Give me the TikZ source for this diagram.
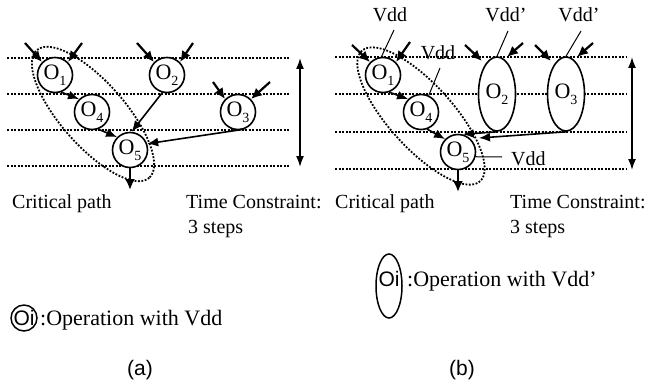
\documentclass[tikz,border=0pt]{standalone}
\usepackage{fontspec}
\setmainfont{Liberation Serif}
\newfontfamily\arialf{Liberation Sans}
\usetikzlibrary{arrows.meta,shapes.geometric}
\newcommand\osub[1]{{\fontsize{22}{24}\selectfont O\raisebox{-0.28em}{\fontsize{14}{14}\selectfont #1}}}
\begin{document}
\begin{tikzpicture}[x=1pt,y=-1pt,
  every node/.style={font=\fontsize{20}{24}\selectfont},
  guide/.style={line width=2pt, dash pattern=on 2pt off 1.5pt},
  crit/.style={line width=1.8pt, dash pattern=on 1.8pt off 1.6pt},
  opc/.style={circle, draw, line width=1.6pt, fill=white, minimum size=35pt, inner sep=0pt},
  ope/.style={ellipse, draw, line width=1.6pt, fill=white, minimum width=37pt, minimum height=74pt, inner sep=0pt},
  inarr/.style={line width=2.2pt, -{Latex[length=11pt,width=10pt]}},
  flow/.style={line width=1.6pt, -{Latex[length=11pt,width=9pt]}},
  spanarr/.style={line width=1.6pt, {Latex[length=11pt,width=8pt]}-{Latex[length=11pt,width=8pt]}},
  vline/.style={line width=1pt},
  txt/.style={anchor=base west, inner sep=0pt},
]
\useasboundingbox (0,0) rectangle (652,385);

% ---------------- panel (a) ----------------
\foreach \yy in {58,94,130,166} \draw[guide] (7,\yy) -- (290,\yy);
\coordinate (aT) at (300,58);
\coordinate (aB) at (300,167);
\draw[spanarr] (aT) -- (aB);

\node[opc] (O1a) at (55,75) {\osub{1}};
\node[opc] (O2a) at (167,75) {\osub{2}};
\node[opc] (O4a) at (92,112) {\osub{4}};
\node[opc] (O3a) at (238,112) {\osub{3}};
\node[opc] (O5a) at (130,150) {\osub{5}};

\draw[crit] plot[domain=0:360,samples=120] ({93+85*cos(\x)*cos(48.6)-32*sin(\x)*sin(48.6)},{114+85*cos(\x)*sin(48.6)+32*sin(\x)*cos(48.6)}) -- cycle;

\coordinate (sa1) at (25,43);
\coordinate (sa2) at (82,43);
\coordinate (sa3) at (137,43);
\coordinate (sa4) at (193,43);
\coordinate (sa5) at (213,82);
\coordinate (sa6) at (270,82);
\draw[inarr] (sa1) -- (O1a.135);
\draw[inarr] (sa2) -- (O1a.45);
\draw[inarr] (sa3) -- (O2a.135);
\draw[inarr] (sa4) -- (O2a.45);
\draw[inarr] (sa5) -- (O3a.135);
\draw[inarr] (sa6) -- (O3a.45);

\draw[flow] (O1a.-70) -- (O4a.135);
\draw[flow] (O4a.-70) -- (O5a.135);
\draw[flow] (O2a.-105) -- (O5a.85);
\draw[flow] (O3a.-70) -- (O5a.20);
\coordinate (outa) at (130,190);
\draw[inarr] (O5a.south) -- (outa);

\node[txt] (cpa) at (12,208) {Critical path};
\node[txt] (tca) at (186,208) {Time Constraint:};
\node[txt] (tsa) at (188,233) {3 steps};

% legend (a)
\node[circle, draw, line width=1.5pt, minimum size=24pt, inner sep=0pt, font=\arialf\fontsize{21}{21}\selectfont] (La) at (24,318) {Oi};
\node[txt, font=\fontsize{22}{26}\selectfont] (lta) at (40,325) {:Operation with Vdd};
\node[font=\arialf\fontsize{21}{24}\selectfont] (capa) at (140,370) {(a)};

% ---------------- panel (b) ----------------
\foreach \yy in {57,94,132,169} \draw[guide] (335,\yy) -- (627,\yy);
\coordinate (bT) at (632,57);
\coordinate (bB) at (632,170);
\draw[spanarr] (bT) -- (bB);

\node[opc] (O1b) at (383,75) {\osub{1}};
\node[opc] (O4b) at (421,112) {\osub{4}};
\node[opc] (O5b) at (458,152) {\osub{5}};
\node[ope] (O2b) at (497,94) {\osub{2}};
\node[ope] (O3b) at (566,94) {\osub{3}};

\draw[crit] plot[domain=0:360,samples=120] ({421+88*cos(\x)*cos(47.8)-32*sin(\x)*sin(47.8)},{116+88*cos(\x)*sin(47.8)+32*sin(\x)*cos(47.8)}) -- cycle;

\coordinate (sb1) at (352,45);
\coordinate (sb2) at (410,42);
\coordinate (sb3) at (465,45);
\coordinate (sb4) at (523,43);
\coordinate (sb5) at (535,45);
\coordinate (sb6) at (593,43);
\coordinate (eb3) at (482,61);
\coordinate (eb4) at (507,57);
\coordinate (eb5) at (551,61);
\coordinate (eb6) at (577,57);
\draw[inarr] (sb1) -- (O1b.135);
\draw[inarr] (sb2) -- (O1b.45);
\draw[inarr] (sb3) -- (eb3);
\draw[inarr] (sb4) -- (eb4);
\draw[inarr] (sb5) -- (eb5);
\draw[inarr] (sb6) -- (eb6);

\draw[flow] (O1b.-70) -- (O4b.135);
\draw[flow] (O4b.-70) -- (O5b.135);
\draw[flow] (O2b.south) -- (O5b.75);
\coordinate (eb7) at (479,138);
\draw[flow] (O3b.south) -- (eb7);
\coordinate (outb) at (458,192);
\draw[inarr] (O5b.south) -- (outb);

% Vdd labels
\node (v1) at (390,15) {Vdd};
\node (v2) at (506,15) {Vdd’};
\node (v3) at (579,15) {Vdd’};
\node (v4) at (438,53) {Vdd};
\node[anchor=west, inner sep=0pt] (v5) at (511,159) {Vdd};
\coordinate (c1) at (394,30);
\coordinate (c2) at (508,31);
\coordinate (c3) at (581,31);
\coordinate (c4) at (440,68);
\coordinate (c5) at (502,157);
\draw[vline] (O1b.95) -- (c1);
\draw[vline] (O2b.north) -- (c2);
\draw[vline] (O3b.north) -- (c3);
\draw[vline] (O4b.65) -- (c4);
\draw[vline] (O5b.-15) -- (c5);

\node[txt] (cpb) at (335,208) {Critical path};
\node[txt] (tcb) at (510,208) {Time Constraint:};
\node[txt] (tsb) at (510,233) {3 steps};

% legend (b)
\node[ellipse, draw, line width=1.5pt, minimum width=26pt, minimum height=64pt, inner sep=0pt] (Lb) at (389,286) {};
\node[font=\arialf\fontsize{21}{21}\selectfont, inner sep=0pt] (Lbt) at (389,279) {Oi};
\node[txt, font=\fontsize{22}{26}\selectfont] (ltb) at (407,286) {:Operation with Vdd\char"27};
\node[font=\arialf\fontsize{21}{24}\selectfont] (capb) at (462,370) {(b)};
\end{tikzpicture}
\end{document}
